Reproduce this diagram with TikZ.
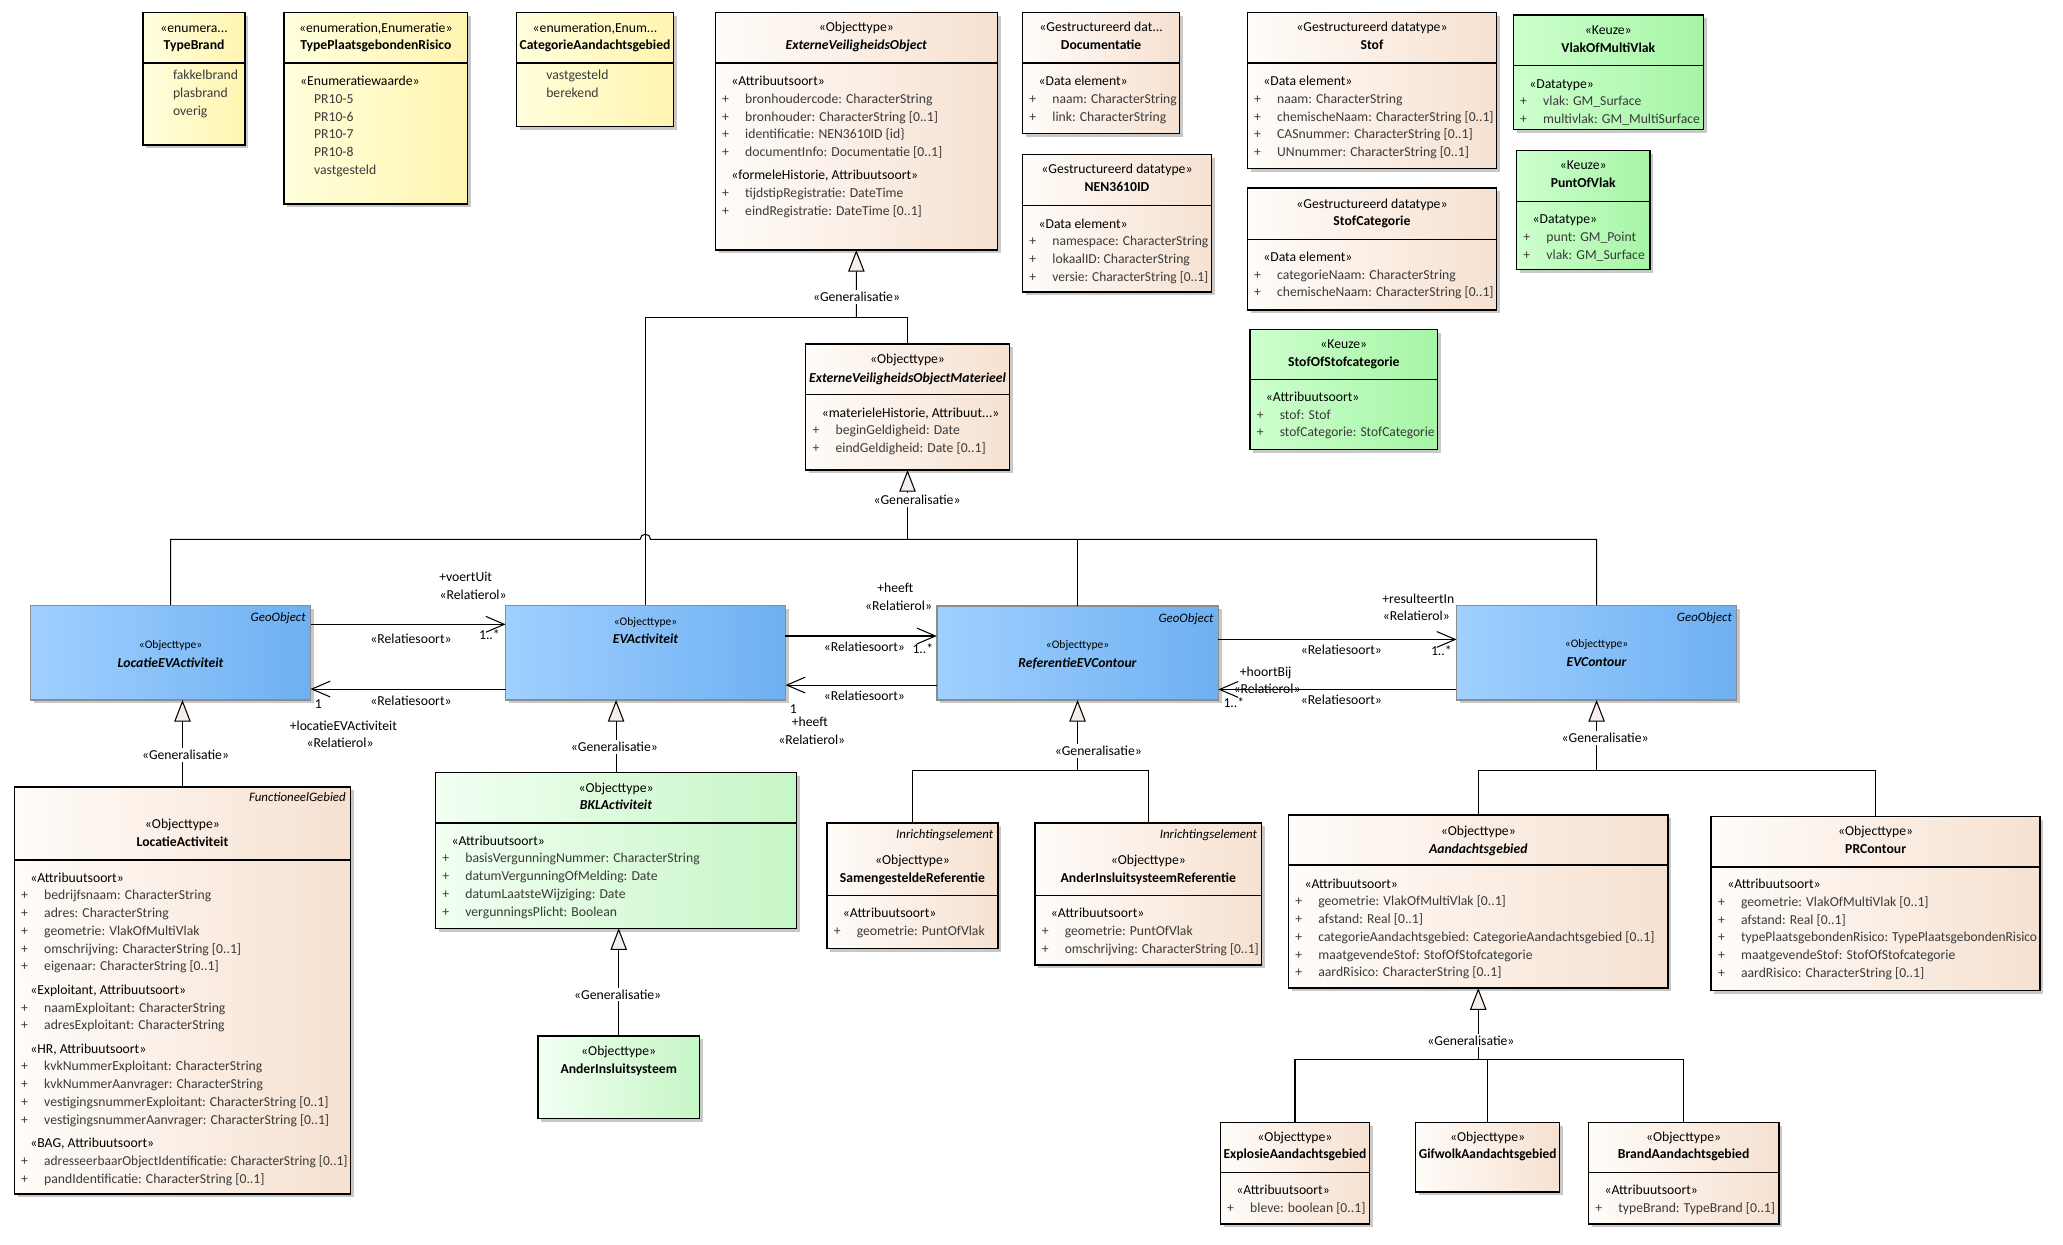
\documentclass[tikz,border=0pt]{standalone}
\usepackage{fontspec}
\setmainfont{Carlito}
\usepackage{graphicx}
\usetikzlibrary{arrows.meta}
\definecolor{yelL}{HTML}{FFFFDC}
\definecolor{yelR}{HTML}{FFF4B0}
\definecolor{peaL}{HTML}{FFFCF9}
\definecolor{peaR}{HTML}{F6E1D1}
\definecolor{grnL}{HTML}{CDFFCD}
\definecolor{grnR}{HTML}{A6F5A6}
\definecolor{lgrL}{HTML}{F2FFF2}
\definecolor{lgrR}{HTML}{C6F6C6}
\definecolor{bluL}{HTML}{A0D0FF}
\definecolor{bluR}{HTML}{6EB0F2}
\definecolor{attc}{HTML}{3A3A3A}
\definecolor{genf}{HTML}{F5EEEB}
\definecolor{shadowc}{HTML}{C8C8C8}
\newcommand\baseF{\fontsize{10.4}{13.5}\selectfont}
\newcommand\blueF{\fontsize{8.8}{10}\selectfont}
\newcommand\tagF{\fontsize{9.8}{12}\selectfont\itshape}
\newsavebox\fitBoxL
\newlength\bmaxL
\newcommand\fitW[2]{\sbox\fitBoxL{#2}\ifdim\wd\fitBoxL>#1\relax\resizebox{#1}{\height}{\usebox\fitBoxL}\else\usebox\fitBoxL\fi}
\tikzset{
 ubox/.style={draw=black,line width=1.1pt,anchor=north west,inner sep=0pt,outer sep=0pt},
 yel/.style={left color=yelL,right color=yelR},
 pea/.style={left color=peaL,right color=peaR},
 grn/.style={left color=grnL,right color=grnR},
 lgr/.style={left color=lgrL,right color=lgrR},
 blu/.style={left color=bluL,right color=bluR,draw=black!45},
 sepl/.style={line width=1.1pt},
 conn/.style={line width=0.8pt},
 gen/.style={conn,-{Triangle[length=16.5pt,width=12.5pt,fill=genf]}},
 assoc/.style={conn,-{Straight Barb[length=14pt,width=12pt]}},
 lbl/.style={anchor=mid,inner sep=0pt},
 lblw/.style={anchor=mid west,inner sep=0pt},
 genlbl/.style={anchor=mid,fill=white,inner sep=1.5pt},
}
\newcommand\uBox[6]{%
  \fill[shadowc] ({#3+2.5},{#4+2.5}) rectangle ({#5+2.5},{#6+2.5});
  \node[ubox,#2,minimum width={#5-#3},minimum height={#6-#4}] (#1) at (#3,#4) {};}
\newcommand\hLine[3]{\node[anchor=mid,inner sep=0pt,yshift=-#2pt] at (#1.north) {#3};}
\newcommand\hName[4]{\node[anchor=mid,inner sep=0pt,yshift=-#2pt] at (#1.north) {\pgfmathsetlength\bmaxL{#3-5}\fitW{\bmaxL}{\textbf{#4}}};}
\newcommand\sepL[2]{\draw[sepl] ([yshift=-#2pt]#1.north west) -- ([yshift=-#2pt]#1.north east);}
\newcommand\bodyL[4]{\node[anchor=base west,inner sep=0pt,xshift=5pt,yshift=-#2pt-2.4pt] at (#1.north west) {\pgfmathsetlength\bmaxL{#3-25}\vtop{\baselineskip=13.5pt\lineskiplimit=-30pt\lineskip=0pt #4}};}
\newcommand\tagL[3]{\node[anchor=mid east,inner sep=0pt,xshift=-3.5pt,yshift=-#2pt,font=\tagF] at (#1.north east) {#3};}
\newcommand\stL[1]{\hbox{\hspace*{7pt}«#1»}}
\newcommand\stgL[1]{\vskip4.3pt\hbox{\hspace*{7pt}«#1»}}
\newcommand\atL[1]{\hbox{\color{attc}\makebox[17.5pt][l]{+}\fitW{\bmaxL}{#1}}}
\newcommand\enL[1]{\hbox{\color{attc}\hspace*{17.5pt}#1}}
\begin{document}
\begin{tikzpicture}[x=1pt,y=-1pt,font=\baseF]
\useasboundingbox (0,0) rectangle (1568,946);
\fill[white] (0,0) rectangle (1568,946);
% ---------- boxes ----------
\uBox{tbrand}{yel}{108.8}{9.5}{186.2}{110.2}
\uBox{tpr}{yel}{216}{9.5}{355.3}{155}
\uBox{cat}{yel}{392.5}{9.5}{512}{96.3}
\uBox{evo}{pea}{543.7}{9.4}{758}{190}
\uBox{doc}{pea}{777.2}{9.4}{896.6}{101.3}
\uBox{nen}{pea}{777.2}{117.3}{920.7}{222}
\uBox{stof}{pea}{948}{9.4}{1137.5}{128}
\uBox{stofcat}{pea}{948}{143}{1137.5}{235.6}
\uBox{vlak}{grn}{1150.2}{11.4}{1294.6}{98.3}
\uBox{punt}{grn}{1152.7}{114.5}{1254}{204.7}
\uBox{sos}{grn}{950}{250.3}{1092.7}{341.5}
\uBox{evom}{pea}{612.4}{261.5}{767.1}{357.2}
\uBox{locevact}{blu}{23.3}{460}{236}{532}
\uBox{evact}{blu}{384.3}{460}{597}{532}
\uBox{refev}{blu}{712}{460.5}{926}{532}
\uBox{evcont}{blu}{1107}{460}{1320}{532}
\uBox{locact}{pea}{10.9}{598}{266.5}{907.6}
\uBox{bkl}{lgr}{331}{587}{605.5}{705.5}
\uBox{ais}{lgr}{409}{787.4}{531.5}{850}
\uBox{samref}{pea}{628.5}{625.5}{758.6}{720.7}
\uBox{aisref}{pea}{786.6}{625.5}{959}{733.5}
\uBox{aand}{pea}{979.3}{619.4}{1267.8}{751}
\uBox{prc}{pea}{1300.6}{620.7}{1550.6}{753}
\uBox{expl}{pea}{927.5}{853.3}{1041}{930.3}
\uBox{gif}{pea}{1075.9}{853.3}{1185.4}{906}
\uBox{brand}{pea}{1207.3}{853.3}{1352}{930.3}
% ---------- box contents ----------
\hLine{tbrand}{12.5}{«enumera...}
\hName{tbrand}{26}{186.2-108.8}{TypeBrand}
\sepL{tbrand}{38.5}
\bodyL{tbrand}{48.8}{186.2-108.8}{\enL{fakkelbrand}\enL{plasbrand}\enL{overig}}
\hLine{tpr}{12.5}{«enumeration,Enumeratie»}
\hName{tpr}{26}{355.3-216}{TypePlaatsgebondenRisico}
\sepL{tpr}{38.5}
\bodyL{tpr}{53.2}{355.3-216}{\stL{Enumeratiewaarde}\enL{PR10-5}\enL{PR10-6}\enL{PR10-7}\enL{PR10-8}\enL{vastgesteld}}
\hLine{cat}{12.5}{«enumeration,Enum...}
\hName{cat}{26}{512-392.5}{CategorieAandachtsgebied}
\sepL{cat}{38.5}
\bodyL{cat}{48.8}{512-392.5}{\enL{vastgesteld}\enL{berekend}}
\hLine{evo}{12.5}{«Objecttype»}
\hName{evo}{26}{758-543.7}{\textit{ExterneVeiligheidsObject}}
\sepL{evo}{38.6}
\bodyL{evo}{53.2}{758-543.7}{\stL{Attribuutsoort}\atL{bronhoudercode: CharacterString}\atL{bronhouder: CharacterString [0..1]}\atL{identificatie: NEN3610ID \{id\}}\atL{documentInfo: Documentatie [0..1]}\stgL{formeleHistorie, Attribuutsoort}\atL{tijdstipRegistratie: DateTime}\atL{eindRegistratie: DateTime [0..1]}}
\hLine{doc}{12.5}{«Gestructureerd dat...}
\hName{doc}{26}{896.6-777.2}{Documentatie}
\sepL{doc}{38.6}
\bodyL{doc}{53.2}{896.6-777.2}{\stL{Data element}\atL{naam: CharacterString}\atL{link: CharacterString}}
\hLine{nen}{12.2}{«Gestructureerd datatype»}
\hName{nen}{25.8}{920.7-777.2}{NEN3610ID}
\sepL{nen}{39}
\bodyL{nen}{53.7}{920.7-777.2}{\stL{Data element}\atL{namespace: CharacterString}\atL{lokaalID: CharacterString}\atL{versie: CharacterString [0..1]}}
\hLine{stof}{12.5}{«Gestructureerd datatype»}
\hName{stof}{26}{1137.5-948}{Stof}
\sepL{stof}{38.6}
\bodyL{stof}{53.2}{1137.5-948}{\stL{Data element}\atL{naam: CharacterString}\atL{chemischeNaam: CharacterString [0..1]}\atL{CASnummer: CharacterString [0..1]}\atL{UNnummer: CharacterString [0..1]}}
\hLine{stofcat}{13.2}{«Gestructureerd datatype»}
\hName{stofcat}{26}{1137.5-948}{StofCategorie}
\sepL{stofcat}{39}
\bodyL{stofcat}{53.3}{1137.5-948}{\stL{Data element}\atL{categorieNaam: CharacterString}\atL{chemischeNaam: CharacterString [0..1]}}
\hLine{vlak}{12.6}{«Keuze»}
\hName{vlak}{26.1}{1294.6-1150.2}{VlakOfMultiVlak}
\sepL{vlak}{38.2}
\bodyL{vlak}{53.2}{1294.6-1150.2}{\stL{Datatype}\atL{vlak: GM\_Surface}\atL{multivlak: GM\_MultiSurface}}
\hLine{punt}{12.2}{«Keuze»}
\hName{punt}{25.5}{1254-1152.7}{PuntOfVlak}
\sepL{punt}{38.8}
\bodyL{punt}{53.2}{1254-1152.7}{\stL{Datatype}\atL{punt: GM\_Point}\atL{vlak: GM\_Surface}}
\hLine{sos}{12.4}{«Keuze»}
\hName{sos}{25.7}{1092.7-950}{StofOfStofcategorie}
\sepL{sos}{38.2}
\bodyL{sos}{52.4}{1092.7-950}{\stL{Attribuutsoort}\atL{stof: Stof}\atL{stofCategorie: StofCategorie}}
\hLine{evom}{12.5}{«Objecttype»}
\hName{evom}{26.5}{767.1-612.4}{\textit{ExterneVeiligheidsObjectMaterieel}}
\sepL{evom}{38.5}
\bodyL{evom}{53.2}{767.1-612.4}{\stL{materieleHistorie, Attribuut...}\atL{beginGeldigheid: Date}\atL{eindGeldigheid: Date [0..1]}}
% blue boxes
\tagL{locevact}{10}{GeoObject}
\hLine{locevact}{30.5}{\blueF«Objecttype»}
\hName{locevact}{45}{236-23.3}{\textit{LocatieEVActiviteit}}
\hLine{evact}{13}{\blueF«Objecttype»}
\hName{evact}{27}{597-384.3}{\textit{EVActiviteit}}
\tagL{refev}{10}{GeoObject}
\hLine{refev}{30}{\blueF«Objecttype»}
\hName{refev}{44.5}{926-712}{\textit{ReferentieEVContour}}
\tagL{evcont}{10}{GeoObject}
\hLine{evcont}{30}{\blueF«Objecttype»}
\hName{evcont}{44}{1320-1107}{\textit{EVContour}}
% lower boxes
\tagL{locact}{9}{FunctioneelGebied}
\hLine{locact}{29}{«Objecttype»}
\hName{locact}{43}{266.5-10.9}{LocatieActiviteit}
\sepL{locact}{55.6}
\bodyL{locact}{70}{266.5-10.9}{\stL{Attribuutsoort}\atL{bedrijfsnaam: CharacterString}\atL{adres: CharacterString}\atL{geometrie: VlakOfMultiVlak}\atL{omschrijving: CharacterString [0..1]}\atL{eigenaar: CharacterString [0..1]}\stgL{Exploitant, Attribuutsoort}\atL{naamExploitant: CharacterString}\atL{adresExploitant: CharacterString}\stgL{HR, Attribuutsoort}\atL{kvkNummerExploitant: CharacterString}\atL{kvkNummerAanvrager: CharacterString}\atL{vestigingsnummerExploitant: CharacterString [0..1]}\atL{vestigingsnummerAanvrager: CharacterString [0..1]}\stgL{BAG, Attribuutsoort}\atL{adresseerbaarObjectIdentificatie: CharacterString [0..1]}\atL{pandIdentificatie: CharacterString [0..1]}}
\hLine{bkl}{13}{«Objecttype»}
\hName{bkl}{26}{605.5-331}{\textit{BKLActiviteit}}
\sepL{bkl}{38.6}
\bodyL{bkl}{53}{605.5-331}{\stL{Attribuutsoort}\atL{basisVergunningNummer: CharacterString}\atL{datumVergunningOfMelding: Date}\atL{datumLaatsteWijziging: Date}\atL{vergunningsPlicht: Boolean}}
\hLine{ais}{12.6}{«Objecttype»}
\hName{ais}{26.4}{531.5-409}{AnderInsluitsysteem}
\tagL{samref}{9.5}{Inrichtingselement}
\hLine{samref}{29.5}{«Objecttype»}
\hName{samref}{42.8}{758.6-628.5}{SamengesteldeReferentie}
\sepL{samref}{55}
\bodyL{samref}{69.5}{758.6-628.5}{\stL{Attribuutsoort}\atL{geometrie: PuntOfVlak}}
\tagL{aisref}{9.5}{Inrichtingselement}
\hLine{aisref}{29.5}{«Objecttype»}
\hName{aisref}{42.8}{959-786.6}{AnderInsluitsysteemReferentie}
\sepL{aisref}{55}
\bodyL{aisref}{69.5}{959-786.6}{\stL{Attribuutsoort}\atL{geometrie: PuntOfVlak}\atL{omschrijving: CharacterString [0..1]}}
\hLine{aand}{13}{«Objecttype»}
\hName{aand}{26.6}{1267.8-979.3}{\textit{Aandachtsgebied}}
\sepL{aand}{38}
\bodyL{aand}{53.2}{1267.8-979.3}{\stL{Attribuutsoort}\atL{geometrie: VlakOfMultiVlak [0..1]}\atL{afstand: Real [0..1]}\atL{categorieAandachtsgebied: CategorieAandachtsgebied [0..1]}\atL{maatgevendeStof: StofOfStofcategorie}\atL{aardRisico: CharacterString [0..1]}}
\hLine{prc}{12.3}{«Objecttype»}
\hName{prc}{25.3}{1550.6-1300.6}{PRContour}
\sepL{prc}{38.3}
\bodyL{prc}{52.3}{1550.6-1300.6}{\stL{Attribuutsoort}\atL{geometrie: VlakOfMultiVlak [0..1]}\atL{afstand: Real [0..1]}\atL{typePlaatsgebondenRisico: TypePlaatsgebondenRisico}\atL{maatgevendeStof: StofOfStofcategorie}\atL{aardRisico: CharacterString [0..1]}}
\hLine{expl}{11.7}{«Objecttype»}
\hName{expl}{25.2}{1041-927.5}{ExplosieAandachtsgebied}
\sepL{expl}{37.7}
\bodyL{expl}{52}{1041-927.5}{\stL{Attribuutsoort}\atL{bleve: boolean [0..1]}}
\hLine{gif}{11.7}{«Objecttype»}
\hName{gif}{25.2}{1185.4-1075.9}{GifwolkAandachtsgebied}
\hLine{brand}{11.7}{«Objecttype»}
\hName{brand}{25.2}{1352-1207.3}{BrandAandachtsgebied}
\sepL{brand}{37.7}
\bodyL{brand}{52}{1352-1207.3}{\stL{Attribuutsoort}\atL{typeBrand: TypeBrand [0..1]}}
% ---------- generalisations ----------
\coordinate (g1) at (650.9,241);
\draw[conn] (evact.north) |- (g1);
\draw[conn] (evom.north) |- (g1);
\draw[gen] (g1) -- (evo.south);
\coordinate (g2) at (689.75,410);
\draw[gen] (g2) -- (evom.south);
\draw[conn] (locevact.north) |- (486.5,410) arc[start angle=180,end angle=360,radius=4] -- (evcont.north |- g2) -- (evcont.north);
\draw[conn] (refev.north) -- (refev.north |- g2);
\draw[gen] (locact.north) -- (locact.north |- locevact.south);
\draw[gen] (bkl.north) -- (bkl.north |- evact.south);
\draw[gen] (ais.north) -- (ais.north |- bkl.south);
\coordinate (g3) at (819,585.5);
\draw[gen] (g3) -- (refev.south);
\draw[conn] (samref.north) |- (g3) -| (aisref.north);
\coordinate (g4) at (1213.5,585.5);
\draw[gen] (g4) -- (evcont.south);
\draw[conn] (aand.north) |- (g4) -| (prc.north);
\coordinate (g5) at (1123.55,805);
\draw[gen] (g5) -- (aand.south);
\draw[conn] (expl.north) |- (g5) -| (brand.north);
\draw[conn] (gif.north) -- (gif.north |- g5);
\node[genlbl] (gl1) at (651,227) {«Generalisatie»};
\node[genlbl] (gl2) at (697,381) {«Generalisatie»};
\node[genlbl] (gl3) at (141,575) {«Generalisatie»};
\node[genlbl] (gl4) at (467,569) {«Generalisatie»};
\node[genlbl] (gl5) at (469.5,757) {«Generalisatie»};
\node[genlbl] (gl6) at (834.8,572) {«Generalisatie»};
\node[genlbl] (gl7) at (1220,562) {«Generalisatie»};
\node[genlbl] (gl8) at (1118,792) {«Generalisatie»};
% ---------- associations ----------
\coordinate (ya1) at (0,474.5);
\coordinate (ya2) at (0,523.7);
\coordinate (ya3) at (0,483.4);
\coordinate (ya4) at (0,520.7);
\coordinate (ya5) at (0,486);
\coordinate (ya6) at (0,524);
\draw[assoc] (locevact.east |- ya1) -- (evact.west |- ya1);
\draw[assoc] (evact.west |- ya2) -- (locevact.east |- ya2);
\draw[assoc] (evact.east |- ya3) -- (refev.west |- ya3);
\draw[assoc] (refev.west |- ya4) -- (evact.east |- ya4);
\draw[assoc] (refev.east |- ya5) -- (evcont.west |- ya5);
\draw[assoc] (evcont.west |- ya6) -- (refev.east |- ya6);
\node[lblw] (l1) at (333.7,439.5) {+voertUit};
\node[lblw] (l2) at (334,453) {«Relatierol»};
\node[lbl] (l3) at (312.4,487) {«Relatiesoort»};
\node[lbl] (l4) at (372,484) {1..*};
\node[lbl] (l5) at (312.4,533.6) {«Relatiesoort»};
\node[lbl] (l6) at (242,536) {1};
\node[lbl] (l7) at (261,552.5) {+locatieEVActiviteit};
\node[lbl] (l8) at (258.5,566) {«Relatierol»};
\node[lbl] (l9) at (680.5,448) {+heeft};
\node[lbl] (l10) at (683,461.6) {«Relatierol»};
\node[lbl] (l11) at (657,493) {«Relatiesoort»};
\node[lbl] (l12) at (701.4,494.5) {1..*};
\node[lbl] (l13) at (657,530) {«Relatiesoort»};
\node[lbl] (l14) at (603,540) {1};
\node[lbl] (l15) at (615.5,549.8) {+heeft};
\node[lbl] (l16) at (617,563.7) {«Relatierol»};
\node[lbl] (l17) at (1078,456) {+resulteertIn};
\node[lbl] (l18) at (1076.5,469) {«Relatierol»};
\node[lbl] (l19) at (1019.5,495) {«Relatiesoort»};
\node[lbl] (l20) at (1095.5,496) {1..*};
\node[lbl] (l21) at (962,511.8) {+hoortBij};
\node[lblw] (l22) at (937.4,524.5) {«Relatierol»};
\node[lbl] (l23) at (937.8,535) {1..*};
\node[lbl] (l24) at (1019.5,533) {«Relatiesoort»};
\end{tikzpicture}
\end{document}
